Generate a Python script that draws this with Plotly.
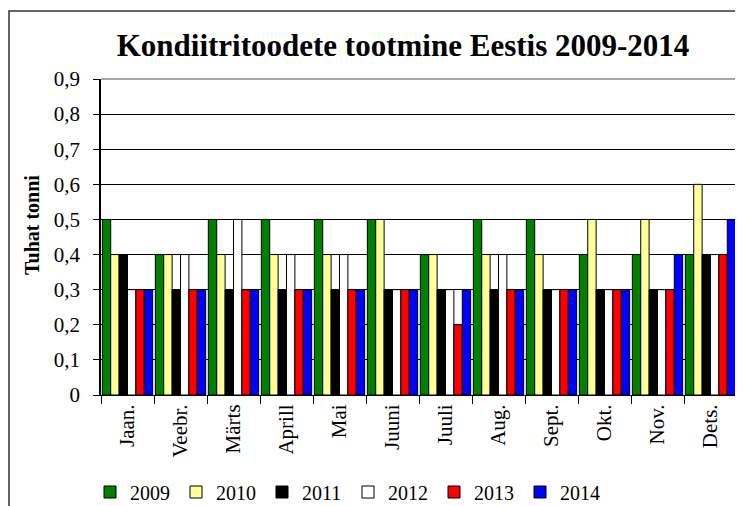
import plotly.graph_objects as go

months = ["Jaan.", "Veebr.", "Märts", "Aprill", "Mai", "Juuni", "Juuli", "Aug.", "Sept.", "Okt.", "Nov.", "Dets."]
years = ["2009", "2010", "2011", "2012", "2013", "2014"]
v2009 = [0.5, 0.4, 0.5, 0.5, 0.5, 0.5, 0.4, 0.5, 0.5, 0.4, 0.4, 0.4]
v2010 = [0.4, 0.4, 0.4, 0.4, 0.4, 0.5, 0.4, 0.4, 0.4, 0.5, 0.5, 0.6]
v2011 = [0.4, 0.3, 0.3, 0.3, 0.3, 0.3, 0.3, 0.3, 0.3, 0.3, 0.3, 0.4]
v2012 = [0.3, 0.4, 0.5, 0.4, 0.4, 0.3, 0.3, 0.4, 0.3, 0.3, 0.3, 0.4]
v2013 = [0.3, 0.3, 0.3, 0.3, 0.3, 0.3, 0.2, 0.3, 0.3, 0.3, 0.3, 0.4]
v2014 = [0.3, 0.3, 0.3, 0.3, 0.3, 0.3, 0.3, 0.3, 0.3, 0.3, 0.4, 0.5]
series = [v2009, v2010, v2011, v2012, v2013, v2014]
colors = ["#008000", "#FFFF99", "#000000", "#FFFFFF", "#FF0000", "#0000FF"]
ytickvals = [0, 0.1, 0.2, 0.3, 0.4, 0.5, 0.6, 0.7, 0.8, 0.9]
yticktext = ["0", "0,1", "0,2", "0,3", "0,4", "0,5", "0,6", "0,7", "0,8", "0,9"]

FONT = "Liberation Serif"

fig = go.Figure()
for name, vals, col in zip(years, series, colors):
    fig.add_trace(go.Bar(x=months, y=vals, name=name,
                         marker=dict(color=col, line=dict(color="black", width=1))))

# page has an 8px body margin; figure placed at (8, 8)
OFF = 8
W, H = 743 - OFF, 506 - OFF
L, T = 101 - OFF, 79 - OFF
R = W - (737 - OFF)
B = H - (395 - OFF)
pw = W - L - R
ph = H - T - B


def px(xp):
    return (xp - OFF - L) / pw


def py(yp):
    return (H - B - (yp - OFF)) / ph


fig.update_layout(
    width=W, height=H,
    margin=dict(l=L, r=R, t=T, b=B, autoexpand=False),
    paper_bgcolor="white", plot_bgcolor="white",
    font=dict(family=FONT, color="black", size=21),
    barmode="group", bargap=0.05, bargroupgap=0,
    title=dict(text="<b>Kondiitritoodete tootmine Eestis 2009-2014</b>",
               font=dict(family=FONT, size=31, color="black"),
               x=(403 - OFF) / W, xref="container", xanchor="center",
               y=1 - (45 - OFF) / H, yref="container", yanchor="middle"),
    showlegend=True,
    legend=dict(orientation="h", x=px(90), xanchor="left",
                y=py(492), yanchor="middle",
                font=dict(family=FONT, size=20),
                entrywidth=41, entrywidthmode="pixels",
                itemwidth=30, traceorder="normal",
                bgcolor="rgba(0,0,0,0)"),
    xaxis=dict(type="category", tickangle=-90, tickfont=dict(family=FONT, size=21),
               ticks="outside", tickson="boundaries", ticklen=8, tickcolor="black",
               showline=True, linecolor="black", linewidth=1, showgrid=False,
               mirror=False, automargin=False),
    yaxis=dict(range=[0, 0.9], tickvals=ytickvals, ticktext=yticktext,
               tickfont=dict(family=FONT, size=21),
               ticks="outside", ticklen=6, tickcolor="black",
               ticklabelstandoff=9,
               showline=True, linecolor="black", linewidth=1.5,
               showgrid=True, gridcolor="black", gridwidth=1, zeroline=False,
               automargin=False),
    annotations=[dict(text="<b>Tuhat tonni</b>", textangle=-90,
                      x=px(32), y=py(225),
                      xref="paper", yref="paper", xanchor="center", yanchor="middle",
                      showarrow=False, font=dict(family=FONT, size=20, color="black"))],
    shapes=[
        dict(type="rect", xref="paper", yref="paper",
             x0=px(9), x1=px(780),
             y0=py(540), y1=py(11),
             line=dict(color="#333333", width=1.5), layer="below"),
        dict(type="line", xref="paper", yref="paper", x0=0, x1=1, y0=1, y1=1,
             line=dict(color="#888888", width=1.5)),
        dict(type="line", xref="paper", yref="paper", x0=1, x1=1, y0=0, y1=1,
             line=dict(color="#888888", width=1.5)),
    ],
)

fig.write_html("out.html")
